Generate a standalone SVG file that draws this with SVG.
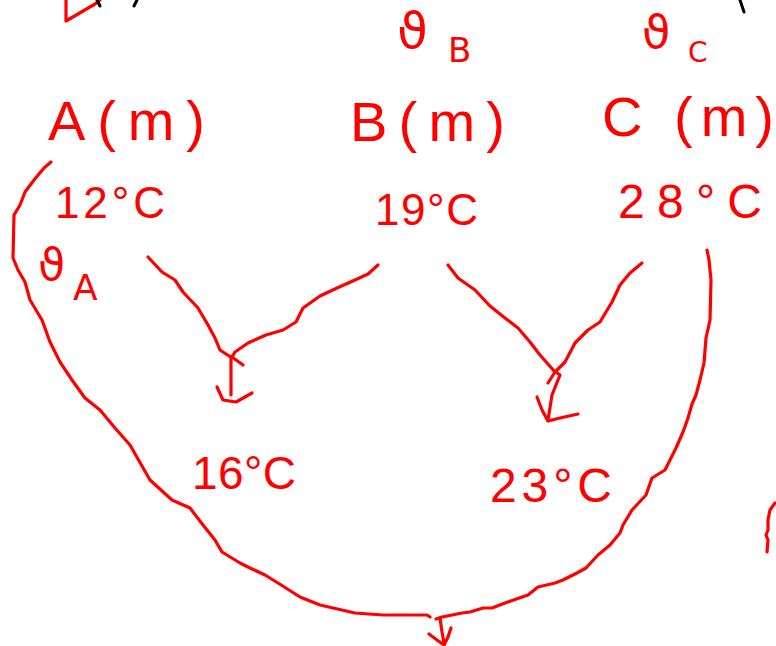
<svg xmlns="http://www.w3.org/2000/svg" width="776" height="646" viewBox="0 0 776 646">
<style>
.t{font-family:"Liberation Sans","DejaVu Sans",sans-serif;fill:#ff0000}
.s{font-family:"DejaVu Sans","Liberation Sans",sans-serif;fill:#ff0000}
.ln{fill:none;stroke:#ff0000;stroke-width:3.2;stroke-linecap:round;stroke-linejoin:round}
.bk{fill:none;stroke:#000;stroke-width:3;stroke-linecap:round}
</style>
<rect width="776" height="646" fill="#fff"/>
<g id="fragments">
<path class="ln" d="M66,0 L66,21 L78,14 L95,4 L100,0"/>
<path class="bk" d="M97,0 L100,6"/>
<path class="bk" d="M137,0 L134,6"/>
<path class="bk" d="M740,0 L744,12"/>
<path class="ln" d="M775,503 L770,510 L768,520 L768,530 L766,535 L768,540 L767,552"/>
</g>
<g id="nodeA">
<text class="t" x="48" y="140" font-size="56" textLength="157" lengthAdjust="spacing">A(m)</text>
<text class="t" x="55" y="218" font-size="44" textLength="110" lengthAdjust="spacing">12°C</text>
<text class="s" x="38" y="280" font-size="44">ϑ</text>
<text class="s" x="73" y="300" font-size="36">A</text>
</g>
<g id="nodeB">
<text class="t" x="350" y="141" font-size="56" textLength="155" lengthAdjust="spacing">B(m)</text>
<text class="t" x="375" y="225" font-size="44" textLength="103" lengthAdjust="spacing">19°C</text>
<text class="s" x="397" y="48" font-size="50">ϑ</text>
<text class="s" x="448" y="62" font-size="34">B</text>
</g>
<g id="nodeC">
<text class="t" x="602" y="136" font-size="56" textLength="172" lengthAdjust="spacing">C (m)</text>
<text class="t" x="618" y="218" font-size="48" textLength="144" lengthAdjust="spacing">28°C</text>
<text class="s" x="642" y="48" font-size="46">ϑ</text>
<text class="s" x="688" y="62" font-size="28">C</text>
</g>
<g id="nodeAB">
<text class="t" x="192" y="489" font-size="46" textLength="104" lengthAdjust="spacing">16°C</text>
</g>
<g id="nodeBC">
<text class="t" x="490" y="502" font-size="48" textLength="122" lengthAdjust="spacing">23°C</text>
</g>
<g id="connectors">
<path class="ln" d="M148,257 L162,272 L175,280 L183,292 L198,308 L208,325 L215,338 L220,350 L229,356"/>
<path class="ln" d="M378,265 L368,274 L355,280 L337,288 L320,296 L303,308 L296,322 L283,330 L266,335 L248,343 L235,352 L232,357 L243,365"/>
<path class="ln" d="M231,356 L231,395 M217,387 L223,400 L236,402 L252,393"/>
<path class="ln" d="M448,265 L458,278 L475,290 L490,306 L505,318 L518,328 L530,342 L540,355 L555,372"/>
<path class="ln" d="M642,263 L630,273 L620,285 L612,302 L600,322 L588,330 L575,343 L565,362 L555,372 L548,383"/>
<path class="ln" d="M556,372 L560,375 L552,395 L548,420 M537,397 L542,410 L548,421 L560,418 L578,414"/>
<path class="ln" d="M51,162 L44,168 L34,180 L25,192 L20,205 L14,215 L13,258 L18,270 L25,282 L30,300 L42,320 L50,342 L60,362 L72,380 L85,398 L100,410 L115,428 L130,445 L150,480 L172,500 L190,508 L203,525 L215,540 L222,552 L240,563 L250,568 L265,575 L278,583 L300,597 L320,605 L355,613 L383,615 L427,615 L430,617"/>
<path class="ln" d="M436,619 L442,617 L462,613 L470,612 L483,608 L492,608 L505,603 L522,597 L528,595 L538,587 L555,583 L563,580 L575,574 L586,568 L598,555 L610,545 L620,533 L623,525 L632,510 L646,495 L652,478 L665,470 L676,448 L683,432 L688,418 L692,404 L696,395 L700,380 L704,363 L706,338 L710,320 L711,280 L709,260 L707,250"/>
<path class="ln" d="M440,618 L442,632 L444,643 M429,634 L437,640 L444,645 L448,637 L451,628"/>
</g>
</svg>
